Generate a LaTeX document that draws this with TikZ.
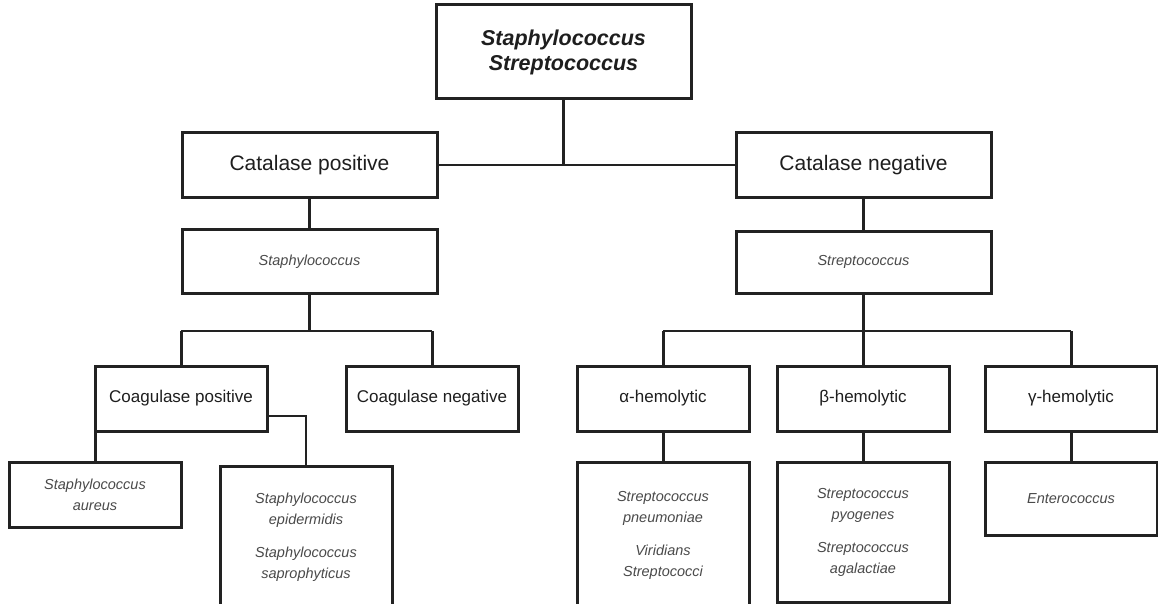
\documentclass[tikz,border=0pt]{standalone}
\usepackage{fontspec}
\setmainfont{Liberation Sans}
\newfontfamily\labfont{Liberation Sans}
\definecolor{linec}{HTML}{222222}
\definecolor{txtc}{HTML}{1E1E1E}
\definecolor{handc}{HTML}{4A4A4A}
\tikzset{
  box/.style={draw=linec, line width=3pt, inner sep=0pt, align=center, font=\labfont\fontsize{17}{20}\selectfont, text=txtc},
  bigbox/.style={box, font=\labfont\fontsize{21}{25}\selectfont},
  spbox/.style={box, font=\labfont\itshape\fontsize{14.5}{21}\selectfont, text=handc},
  conn/.style={draw=linec, line width=3pt},
  busline/.style={draw=linec, line width=2pt},
}
\begin{document}
\begin{tikzpicture}[x=1pt,y=-1pt]
\clip (0,0) rectangle (1158,604);
\fill[white] (0,0) rectangle (1158,604);
% level 0
\node[bigbox, minimum width=255, minimum height=94, font=\labfont\bfseries\itshape\fontsize{21.5}{25}\selectfont] (top) at (563.5,52) {Staphylococcus\\Streptococcus};
% level 1
\node[bigbox, minimum width=255, minimum height=64] (catpos) at (309.5,165) {Catalase positive};
\node[bigbox, minimum width=255, minimum height=64] (catneg) at (863.5,165) {Catalase negative};
% level 2
\node[spbox, minimum width=255, minimum height=64] (staph) at (309.5,261.5) {Staphylococcus};
\node[spbox, minimum width=255, minimum height=62] (strep) at (863.5,262) {Streptococcus};
% level 3
\node[box, minimum width=172, minimum height=65] (coagpos) at (181,398.5) {Coagulase positive};
\node[box, minimum width=172, minimum height=65] (coagneg) at (432,398.5) {Coagulase negative};
\node[box, minimum width=172, minimum height=65] (alpha) at (663,398.5) {α-hemolytic};
\node[box, minimum width=172, minimum height=65] (beta) at (863,398.5) {β-hemolytic};
\node[box, minimum width=172, minimum height=65] (gamma) at (1071,398.5) {γ-hemolytic};
% level 4
\node[spbox, minimum width=172, minimum height=65] (aureus) at (95,494.5) {Staphylococcus\\aureus};
\node[spbox, minimum width=172, minimum height=142] (epid) at (306,537) {Staphylococcus\\epidermidis\\[12pt]Staphylococcus\\saprophyticus};
\node[spbox, minimum width=172, minimum height=146] (alphal) at (663,535) {Streptococcus\\pneumoniae\\[12pt]Viridians\\Streptococci};
\node[spbox, minimum width=172, minimum height=140] (betal) at (863,532) {Streptococcus\\pyogenes\\[12pt]Streptococcus\\agalactiae};
\node[spbox, minimum width=172, minimum height=73] (entero) at (1071,498.5) {Enterococcus};
% coordinates for buses
\coordinate (sbus) at (309.5,331);
\coordinate (rbus) at (863.5,331);
% connectors
\draw[conn] (top.south) -- (top.south |- catpos.east);
\draw[busline] (catpos.east) -- (catneg.west);
\draw[conn] (catpos.south) -- (staph.north);
\draw[conn] (catneg.south) -- (strep.north);
\draw[conn] (staph.south) -- (sbus);
\draw[conn] (strep.south) -- (rbus);
\draw[busline] (coagpos.north |- sbus) -- (coagneg.north |- sbus);
\draw[busline] (alpha.north |- rbus) -- (gamma.north |- rbus);
\draw[conn] (coagpos.north |- sbus) -- (coagpos.north);
\draw[conn] (coagneg.north |- sbus) -- (coagneg.north);
\draw[conn] (alpha.north |- rbus) -- (alpha.north);
\draw[conn] (beta.north |- rbus) -- (beta.north);
\draw[conn] (gamma.north |- rbus) -- (gamma.north);
\draw[conn] (alpha.south) -- (alphal.north);
\draw[conn] (beta.south) -- (betal.north);
\draw[conn] (gamma.south) -- (entero.north);
\draw[conn] (aureus.north |- coagpos.south) -- (aureus.north);
\draw[busline] (coagpos.south east) ++(0,-17) coordinate (cpe) -| (epid.north);
\end{tikzpicture}
\end{document}
